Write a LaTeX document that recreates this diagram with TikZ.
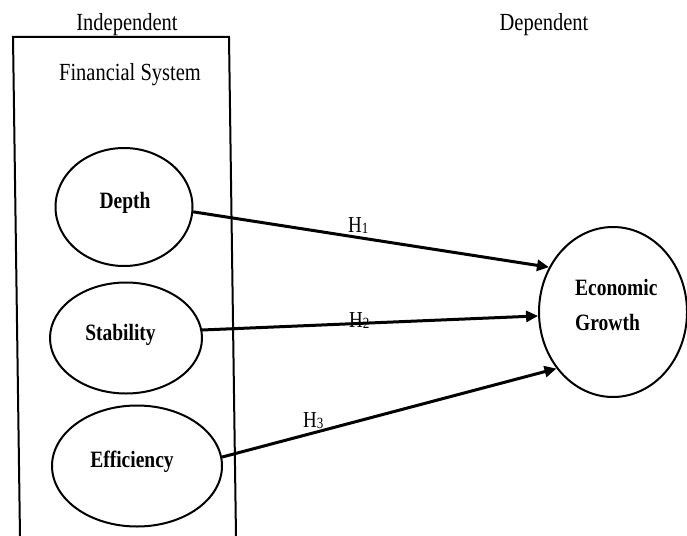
\documentclass[tikz,border=0pt]{standalone}
\usepackage{fontspec}
\setmainfont{Liberation Serif}
\usepackage{graphicx}
\usetikzlibrary{arrows.meta,shapes.geometric}
\tikzset{
 var/.style={draw, ellipse, line width=2pt, inner sep=0pt},
 lab/.style={anchor=base, inner sep=0pt, font=\fontsize{20.5}{24}\selectfont},
 vlab/.style={anchor=base, inner sep=0pt, font=\fontsize{19.5}{24}\selectfont\bfseries},
 hyp/.style={anchor=base west, inner sep=0pt, font=\fontsize{19}{22}\selectfont},
 link/.style={line width=3pt, -{Triangle[length=12pt,width=11pt]}},
 frame/.style={line width=2pt}
}
\newcommand{\vstretch}[1]{\scalebox{1}[1.2]{#1}}
\newcommand{\hsub}[1]{\raisebox{-1pt}{\fontsize{13}{13}\selectfont #1}}
\begin{document}
\begin{tikzpicture}[x=1pt,y=-1pt]
\useasboundingbox (0,0) rectangle (687,535);
\fill[white] (0,0) rectangle (687,535);
\draw[frame] (20,537) -- (13,37) -- (229,37) -- (236,537);
\node[var, minimum width=137, minimum height=118] (depth) at (124,207) {};
\node[var, minimum width=152, minimum height=111] (stab) at (126,338) {};
\node[var, minimum width=170, minimum height=121] (eff) at (137,466) {};
\node[var, minimum width=148, minimum height=170] (eg) at (613,312) {};
\node[vlab] (tdepth) at (125,208) {\vstretch{Depth}};
\node[vlab] (tstab) at (120.5,340) {\vstretch{Stability}};
\node[vlab] (teff) at (132,467) {\vstretch{Efficiency}};
\node[vlab, anchor=base west] (tecon) at (575,295) {\vstretch{Economic}};
\node[vlab, anchor=base west] (tgrowth) at (575,330) {\vstretch{Growth}};
\node[lab] (indep) at (127,31) {\vstretch{Independent}};
\node[lab] (dep) at (544,31) {\vstretch{Dependent}};
\node[lab] (fin) at (130,80) {\vstretch{Financial System}};
\draw[link] (depth.-4) -- (eg.145);
\draw[link] (stab.6) -- (eg.183);
\draw[link] (eff.6) -- (eg.225);
\node[hyp] (h1) at (348,232) {\vstretch{H\hsub{1}}};
\node[hyp] (h2) at (349,327) {\vstretch{H\hsub{2}}};
\node[hyp] (h3) at (303,427) {\vstretch{H\hsub{3}}};
\end{tikzpicture}
\end{document}
